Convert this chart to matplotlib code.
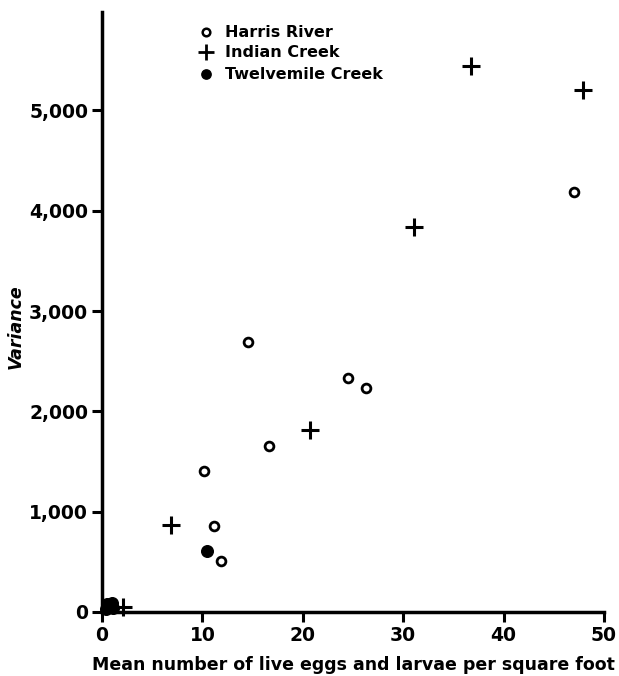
import matplotlib
matplotlib.use("Agg")
import matplotlib.pyplot as plt
from matplotlib.ticker import FuncFormatter

harris_x = [14.5, 24.5, 26.3, 16.6, 10.2, 11.2, 11.9, 47.0, 0.6]
harris_y = [2690, 2330, 2230, 1650, 1410, 860, 510, 4190, 40]
indian_x = [36.8, 47.9, 31.1, 20.7, 6.9, 2.1]
indian_y = [5440, 5200, 3835, 1815, 870, 50]
twelve_x = [10.5, 0.4, 0.7, 1.0, 1.1, 0.5]
twelve_y = [610, 25, 60, 90, 40, 80]

xticks = [0, 10, 20, 30, 40, 50]
yticks = [0, 1000, 2000, 3000, 4000, 5000]

plt.rcParams['font.family'] = ['DejaVu Sans']
fig = plt.figure(figsize=(6.19, 6.76), dpi=100)
ax = fig.add_axes([0.1648, 0.0947, 0.8110, 0.8873])

ax.scatter(harris_x, harris_y, s=40, facecolors='white', edgecolors='black',
           linewidths=2.0, zorder=3, clip_on=False)
ax.scatter(indian_x, indian_y, s=160, marker='+', color='black',
           linewidths=2.2, zorder=3, clip_on=False)
ax.scatter(twelve_x, twelve_y, s=70, color='black', zorder=4, clip_on=False)

ax.set_xlim(0, 50)
ax.set_ylim(0, 5980)
ax.set_xticks(xticks)
ax.set_yticks(yticks)
ax.yaxis.set_major_formatter(FuncFormatter(lambda v, p: f"{int(v):,}"))

for s in ['top', 'right']:
    ax.spines[s].set_visible(False)
for s in ['left', 'bottom']:
    ax.spines[s].set_linewidth(2.5)
ax.tick_params(axis='both', direction='out', length=7, width=2.2,
               labelsize=13.5, pad=3)
for lab in ax.get_xticklabels() + ax.get_yticklabels():
    lab.set_fontweight('bold')

ax.set_xlabel("Mean number of live eggs and larvae per square foot",
              fontsize=12.5, fontweight='bold', labelpad=8)
ax.set_ylabel("Variance", fontsize=12.5, fontweight='bold', style='italic')
ax.yaxis.set_label_coords(-0.155, 0.475)

# legend
leg_items = [("Harris River", dict(s=30, facecolors='white', edgecolors='black', linewidths=1.8, marker='o')),
             ("Indian Creek", dict(s=120, color='black', linewidths=2.0, marker='+')),
             ("Twelvemile Creek", dict(s=45, color='black', marker='o'))]
ly = [5780, 5580, 5360]
for (name, kw), yy in zip(leg_items, ly):
    ax.scatter([10.4], [yy], zorder=3, **kw)
    ax.text(12.2, yy, name, fontsize=11.5, fontweight='bold', va='center', ha='left')

fig.savefig("out.png", dpi=100)
